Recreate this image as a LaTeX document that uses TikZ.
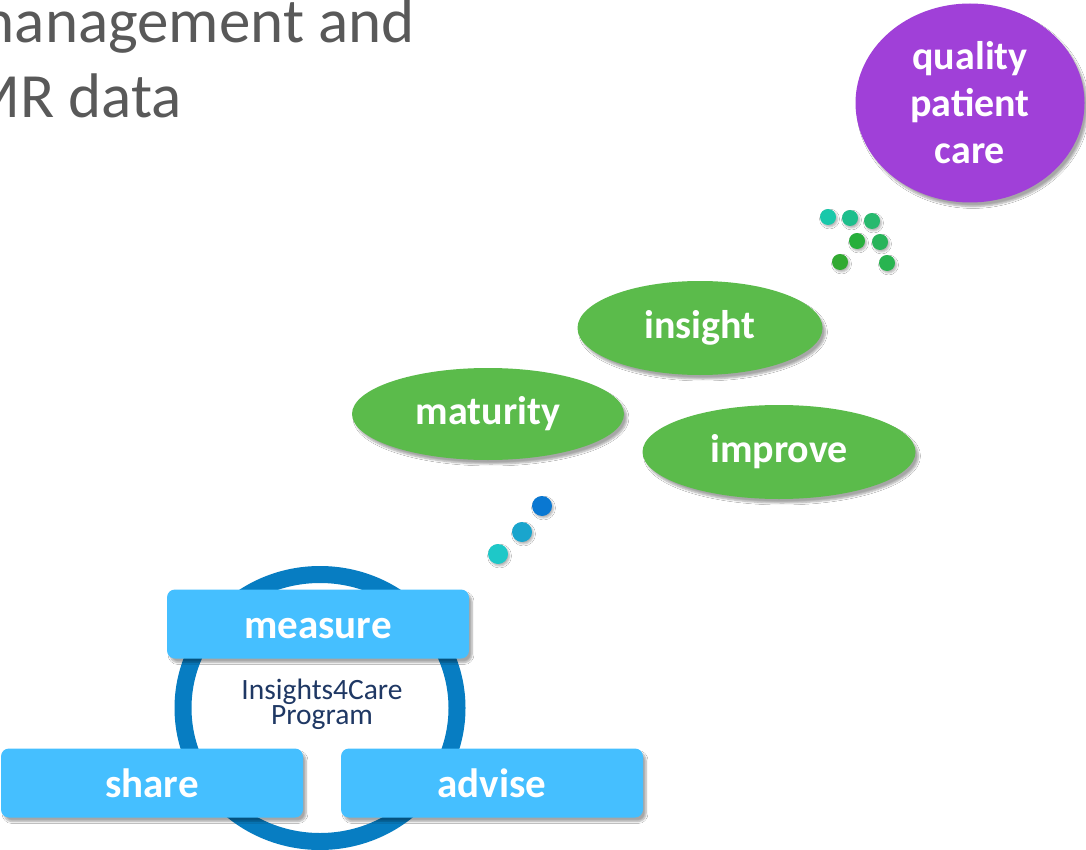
\documentclass[tikz,border=0pt]{standalone}
\usepackage{fontspec}
\setmainfont{Carlito}
\usetikzlibrary{shapes.geometric,shadows.blur}

\definecolor{titlegray}{RGB}{89,89,89}
\definecolor{carepurple}{RGB}{160,64,216}
\definecolor{stagegreen}{RGB}{91,187,75}
\definecolor{boxblue}{RGB}{69,191,255}
\definecolor{ringblue}{RGB}{7,125,194}
\definecolor{programnavy}{RGB}{31,56,100}
\definecolor{gdotA}{RGB}{25,200,170}
\definecolor{gdotB}{RGB}{30,190,140}
\definecolor{gdotC}{RGB}{40,185,110}
\definecolor{gdotD}{RGB}{40,175,60}
\definecolor{gdotE}{RGB}{40,180,90}
\definecolor{gdotF}{RGB}{50,170,50}
\definecolor{gdotG}{RGB}{40,180,80}
\definecolor{bdotA}{RGB}{30,200,200}
\definecolor{bdotB}{RGB}{25,165,205}
\definecolor{bdotC}{RGB}{10,120,210}

\tikzset{
  softshadow/.style={blur shadow={shadow xshift=3pt, shadow yshift=-4pt,
      shadow blur steps=6, shadow opacity=35}},
  labeltext/.style={text=white, font=\bfseries\fontsize{40}{47}\selectfont, align=center},
  stageell/.style={ellipse, fill=stagegreen, inner sep=0pt, softshadow, labeltext},
  goalell/.style={ellipse, fill=carepurple, inner sep=0pt, softshadow, labeltext},
  stepbox/.style={rectangle, rounded corners=8pt, fill=boxblue, inner sep=0pt,
      minimum width=302pt, minimum height=69pt, softshadow,
      text=white, font=\bfseries\fontsize{41}{48}\selectfont,
      text height=28pt, text depth=0pt},
  dotnode/.style={circle, inner sep=0pt, minimum size=16pt,
      blur shadow={shadow xshift=1.5pt, shadow yshift=-2pt, shadow blur steps=4, shadow opacity=30}},
  bigdot/.style={dotnode, minimum size=20pt},
  titletext/.style={text=titlegray, font=\fontsize{63}{75}\selectfont, inner sep=0pt}
}

\begin{document}
\begin{tikzpicture}[x=1pt, y=-1pt]
  \clip (0,0) rectangle (1086,850);
  \fill[white] (0,0) rectangle (1086,850);

  % heading, running past the left edge
  \node[titletext, anchor=base east] (titleA) at (415,43) {management and};
  \node[titletext, anchor=base east] (titleB) at (182,118) {EMR data};

  % programme cycle
  \node[ellipse, draw=ringblue, line width=17pt, minimum width=274pt,
        minimum height=267pt, inner sep=0pt] (ring) at (320,708) {};
  \node[text=programnavy, align=center, font=\fontsize{29.5}{21}\selectfont] (program)
        at (322,704) {Insights4Care\\Program};
  \node[stepbox] (measure) at (318,624) {measure};
  \node[stepbox] (share) at (152,783) {share};
  \node[stepbox] (advise) at (492,783) {advise};

  % dots leading up from the cycle
  \node[bigdot, fill=bdotA] (b1) at (498,554) {};
  \node[bigdot, fill=bdotB] (b2) at (522,532) {};
  \node[bigdot, fill=bdotC] (b3) at (542,506) {};

  % outcomes
  \node[stageell, minimum width=272pt, minimum height=92pt] (maturity) at (488,414) {maturity};
  \node[stageell, minimum width=245pt, minimum height=94pt] (insight) at (700,328) {insight};
  \node[stageell, minimum width=273pt, minimum height=94pt] (improve) at (779,452) {improve};

  % dots leading to the goal
  \node[dotnode, fill=gdotA] (g1) at (828,217) {};
  \node[dotnode, fill=gdotB] (g2) at (850,218) {};
  \node[dotnode, fill=gdotC] (g3) at (872,221) {};
  \node[dotnode, fill=gdotD] (g4) at (857,241) {};
  \node[dotnode, fill=gdotE] (g5) at (880,242) {};
  \node[dotnode, fill=gdotF] (g6) at (840,262) {};
  \node[dotnode, fill=gdotG] (g7) at (887,263) {};

  % goal
  \node[goalell, minimum width=229pt, minimum height=199pt] (care) at (970,103)
        {quality\\patient\\care};
\end{tikzpicture}
\end{document}
